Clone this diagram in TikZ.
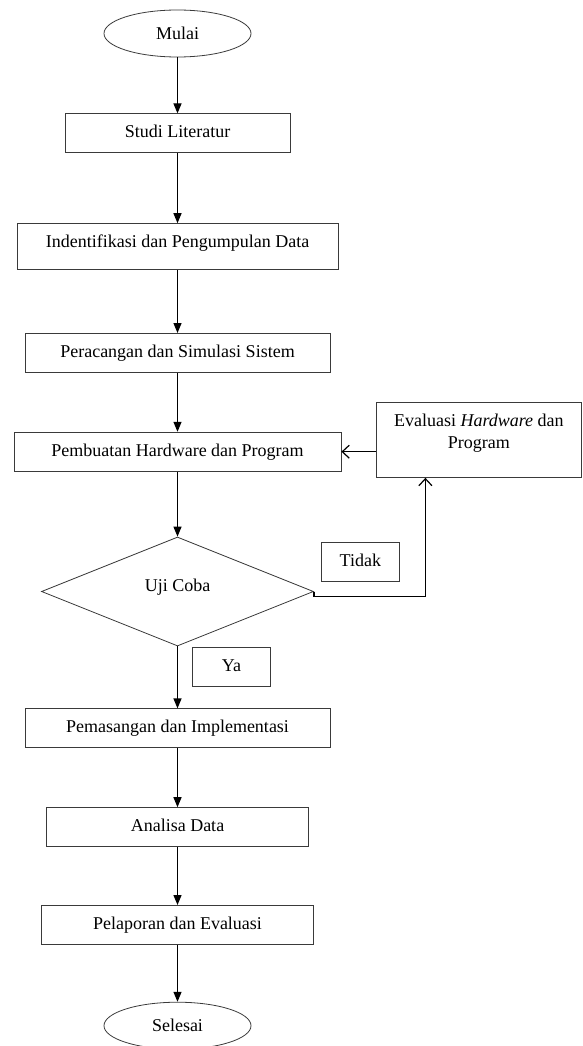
\documentclass[tikz,border=0pt]{standalone}
\usepackage{fontspec}
\setmainfont{Liberation Serif}
\usepackage{tikz}
\usetikzlibrary{positioning, shapes.geometric, arrows.meta}
\usepackage{xcolor}
\definecolor{fcline}{HTML}{3A3A3A}

\begin{document}
\begin{tikzpicture}[x=1pt, y=1pt,
        every node/.style={font=\fontsize{18}{22}\selectfont},
        proses/.style={rectangle, draw=fcline, line width=0.8pt, text height=13pt, text depth=4pt,
              inner ysep=11pt, inner xsep=4pt, align=center},
        terminal/.style={ellipse, draw=fcline, line width=0.8pt, minimum width=147pt, minimum height=47pt, inner sep=0pt},
        keputusan/.style={diamond, aspect=2.5, draw=fcline, line width=0.8pt, minimum width=272pt, minimum height=109pt,
              inner sep=0pt, text height=13pt, text depth=13pt},
        alur/.style={line width=1.2pt, -{Triangle[width=8pt,length=10pt]}},
        balik/.style={line width=1.2pt, -{Straight Barb[length=7pt,width=13pt]}}]
        \useasboundingbox (0,0) rectangle (582,-1046);
        \node[terminal] (mulai) at (177.5,-33.5) {Mulai};
        \node[proses, minimum width=225pt, below=56pt of mulai] (studi) {Studi Literatur};
        \node[proses, minimum width=321pt, text depth=11pt, below=70pt of studi] (identifikasi) {Indentifikasi dan Pengumpulan Data};
        \node[proses, minimum width=305pt, below=63pt of identifikasi] (perancangan) {Peracangan dan Simulasi Sistem};
        \node[proses, minimum width=327pt, below=59pt of perancangan] (pembuatan) {Pembuatan Hardware dan Program};
        \node[keputusan, below=65pt of pembuatan] (uji) {Uji Coba};
        \node[proses, minimum width=305pt, below=62pt of uji] (pemasangan) {Pemasangan dan Implementasi};
        \node[proses, minimum width=262pt, below=59pt of pemasangan] (analisa) {Analisa Data};
        \node[proses, minimum width=272pt, below=58pt of analisa] (pelaporan) {Pelaporan dan Evaluasi};
        \node[terminal, below=57pt of pelaporan] (selesai) {Selesai};
        \node[proses, anchor=north west, minimum width=205pt, text height=35pt, text depth=18pt] (evaluasi) at (376,-402) {Evaluasi \textit{Hardware} dan\\Program};
        \node[proses, anchor=north west, minimum width=78pt] (tidak) at (321,-542) {Tidak};
        \node[proses, anchor=north west, minimum width=78pt] (ya) at (192,-647) {Ya};
        \draw[alur] (mulai) -- (studi);
        \draw[alur] (studi) -- (identifikasi);
        \draw[alur] (identifikasi) -- (perancangan);
        \draw[alur] (perancangan) -- (pembuatan);
        \draw[alur] (pembuatan) -- (uji);
        \draw[alur] (uji) -- (pemasangan);
        \draw[alur] (pemasangan) -- (analisa);
        \draw[alur] (analisa) -- (pelaporan);
        \draw[alur] (pelaporan) -- (selesai);
        \draw[balik] (uji.east) -- ++(0,-5) -| ([xshift=-53.5pt]evaluasi.south);
        \draw[balik] (evaluasi.west |- pembuatan) -- (pembuatan);
      \end{tikzpicture}
\end{document}
